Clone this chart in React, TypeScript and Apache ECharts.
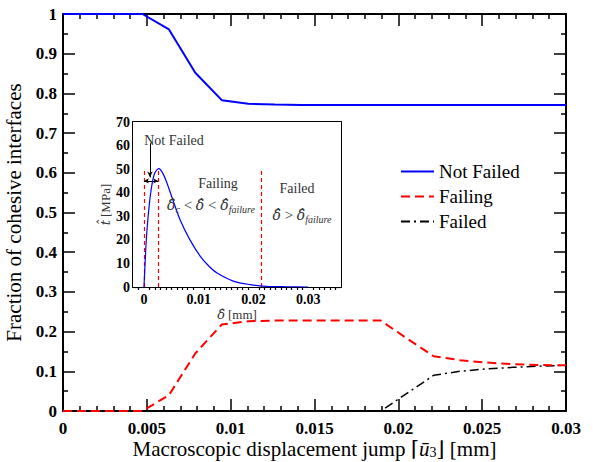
import React, { useEffect, useRef } from "react";
import * as echarts from "echarts";

// Macroscopic displacement jump [mm] at each load step
const displacement = [
  0, 0.00158, 0.00316, 0.00474, 0.00632, 0.00789, 0.00947, 0.01105, 0.01263, 0.01421,
  0.01579, 0.01737, 0.01895, 0.02053, 0.02211, 0.02368, 0.02526, 0.02684, 0.02842, 0.03,
];
// Fraction of cohesive interfaces in each state
const notFailed = [
  1, 1, 1, 1, 0.961, 0.852, 0.783, 0.774, 0.772, 0.771,
  0.771, 0.771, 0.771, 0.771, 0.771, 0.771, 0.771, 0.771, 0.771, 0.771,
];
const failing = [
  0, 0, 0, 0, 0.04, 0.145, 0.218, 0.226, 0.228, 0.228,
  0.228, 0.228, 0.228, 0.182, 0.138, 0.128, 0.122, 0.118, 0.116, 0.115,
];
const failed = [
  0, 0, 0, 0, 0, 0, 0, 0, 0, 0,
  0, 0, 0, 0.045, 0.09, 0.1, 0.106, 0.11, 0.113, 0.115,
];

// Cohesive law: effective opening [mm] vs effective traction [MPa]
const separation = [
  0, 0.00025, 0.0005, 0.001, 0.0015, 0.002, 0.0027, 0.0035, 0.0043, 0.0052,
  0.0066, 0.0084, 0.0103, 0.0118, 0.0133, 0.0163, 0.0194, 0.0224, 0.026, 0.03,
];
const traction = [
  0, 12, 22.5, 35.5, 44, 48.5, 50.2, 48, 43.5, 37.5,
  28.5, 20, 13, 9, 6, 2.5, 1, 0.3, 0.1, 0,
];
// State boundaries of the cohesive law: 0, critical opening, failure opening
const stateBounds = [0, 0.0026, 0.0215];
const boundTop = 50;
const arrowLevel = 45;

// Tick positions of the inset opening axis
const insetMajorTicks = [0, 0.01, 0.02, 0.03];
const insetMinorTicks = [
  -0.001, 0.001, 0.002, 0.003, 0.004, 0.005, 0.006, 0.007, 0.008, 0.009,
  0.011, 0.012, 0.013, 0.014, 0.015, 0.016, 0.017, 0.018, 0.019,
  0.021, 0.022, 0.023, 0.024, 0.025, 0.026, 0.027, 0.028, 0.029,
  0.031, 0.032, 0.033, 0.034, 0.035,
];

const legendNames = ["Not Failed", "Failing", "Failed"];

const serif = "Liberation Serif, DejaVu Serif, serif";
const mathFont = "DejaVu Serif, serif";
const fmt = (v: number) => String(parseFloat(v.toFixed(4)));

const axisLine = { show: true, onZero: false, lineStyle: { color: "#000", width: 2 } };
const tickLine = { color: "#000", width: 1.5 };

// bold serif tick labels
function tickLabel(show: boolean, size: number, margin: number, extra: object = {}) {
  return {
    show,
    margin,
    formatter: (v: number) => `{b|${fmt(v)}}`,
    rich: { b: { fontFamily: serif, fontWeight: "bold", fontSize: size, color: "#000" } },
    ...extra,
  };
}

function mainX(position: "bottom" | "top", labels: boolean) {
  return {
    gridIndex: 0,
    type: "value",
    position,
    min: 0,
    max: 0.03,
    interval: 0.005,
    axisLine,
    axisTick: { show: true, inside: true, length: 12, lineStyle: tickLine },
    minorTick: { show: true, splitNumber: 5, length: 5, lineStyle: tickLine },
    splitLine: { show: false },
    minorSplitLine: { show: false },
    axisLabel: tickLabel(labels, 17, 9),
    ...(labels
      ? {
          name: "{n|Macroscopic displacement jump ⌈}{i|ū}{s|3}{n|⌋ [mm]}",
          nameLocation: "middle",
          nameGap: 27,
          nameMoveOverlap: false,
          nameTextStyle: {
            rich: {
              n: { fontFamily: serif, fontSize: 21, color: "#000", lineHeight: 21 },
              i: { fontFamily: serif, fontStyle: "italic", fontSize: 21, color: "#000", lineHeight: 21 },
              s: { fontFamily: serif, fontSize: 14, color: "#000", lineHeight: 14, verticalAlign: "bottom" },
            },
          },
        }
      : {}),
  };
}

function mainY(position: "left" | "right", labels: boolean) {
  return {
    gridIndex: 0,
    type: "value",
    position,
    min: 0,
    max: 1,
    interval: 0.1,
    axisLine,
    axisTick: { show: true, inside: true, length: 12, lineStyle: tickLine },
    minorTick: { show: true, splitNumber: 2, length: 5, lineStyle: tickLine },
    splitLine: { show: false },
    minorSplitLine: { show: false },
    axisLabel: tickLabel(labels, 17, 6),
    ...(labels
      ? {
          name: "Fraction of cohesive interfaces",
          nameLocation: "middle",
          nameGap: 31,
          nameTextStyle: { fontFamily: serif, fontSize: 21, color: "#000" },
        }
      : {}),
  };
}

function insetX(position: "bottom" | "top", minor: boolean, labels: boolean) {
  return {
    gridIndex: 1,
    type: "value",
    position,
    min: -0.002,
    max: 0.036,
    axisLine: minor ? { show: false } : axisLine,
    axisTick: {
      show: true,
      inside: true,
      length: minor ? 3 : 7,
      customValues: minor ? insetMinorTicks : insetMajorTicks,
      lineStyle: { color: "#000", width: 1.2 },
    },
    splitLine: { show: false },
    axisLabel: tickLabel(labels, 14, 5, { customValues: insetMajorTicks }),
    ...(labels
      ? {
          name: "{i|δ̂} {n|[mm]}",
          nameLocation: "middle",
          nameGap: 21,
          nameTextStyle: {
            rich: {
              i: { fontFamily: mathFont, fontStyle: "italic", fontSize: 13, color: "#333" },
              n: { fontFamily: serif, fontSize: 13, color: "#333" },
            },
          },
        }
      : {}),
  };
}

function insetY(position: "left" | "right", labels: boolean) {
  return {
    gridIndex: 1,
    type: "value",
    position,
    min: 0,
    max: 70,
    interval: 10,
    axisLine,
    axisTick: { show: true, inside: true, length: 7, lineStyle: { color: "#000", width: 1.2 } },
    minorTick: { show: true, splitNumber: 2, length: 3, lineStyle: { color: "#000", width: 1.2 } },
    splitLine: { show: false },
    minorSplitLine: { show: false },
    axisLabel: tickLabel(labels, 14, 3),
    ...(labels
      ? {
          name: "{i|t̂} {n|[MPa]}",
          nameLocation: "middle",
          nameGap: 16,
          nameTextStyle: {
            rich: {
              i: { fontFamily: mathFont, fontStyle: "italic", fontSize: 13, color: "#333" },
              n: { fontFamily: serif, fontSize: 13, color: "#333" },
            },
          },
        }
      : {}),
  };
}

const mathRich = {
  m: { fontFamily: mathFont, fontStyle: "italic", fontSize: 14, lineHeight: 18, fill: "#333" },
  r: { fontFamily: serif, fontSize: 15, lineHeight: 18, fill: "#333" },
  s: { fontFamily: serif, fontStyle: "italic", fontSize: 10, lineHeight: 10, fill: "#333", verticalAlign: "bottom" },
};

function label(x: number, y: number, text: string, size = 14) {
  return {
    type: "text",
    x,
    y,
    z: 10,
    style: {
      text,
      fontFamily: serif,
      fontSize: size,
      fill: "#333",
      align: "center",
      verticalAlign: "middle",
      rich: mathRich,
    },
  };
}

const pairs = (xs: number[], ys: number[]) => xs.map((x, i) => [x, ys[i]]);

export default function App() {
  const ref = useRef<HTMLDivElement>(null);

  useEffect(() => {
    if (!ref.current) return;
    const chart = echarts.init(ref.current, null, { renderer: "svg" });
    const arrowStyle = { color: "#000", type: "solid", width: 1 };

    chart.setOption({
      animation: false,
      backgroundColor: "#fff",
      textStyle: { fontFamily: serif },
      grid: [
        { left: 63, right: 28, top: 14, bottom: 51, containLabel: false, outerBoundsMode: "none" },
        {
          left: 133,
          top: 122,
          width: 208,
          height: 165,
          show: true,
          backgroundColor: "#fff",
          borderWidth: 0,
          z: 5,
          containLabel: false,
          outerBoundsMode: "none",
        },
      ],
      xAxis: [
        mainX("bottom", true),
        mainX("top", false),
        insetX("bottom", false, true),
        insetX("bottom", true, false),
        insetX("top", false, false),
        insetX("top", true, false),
      ],
      yAxis: [mainY("left", true), mainY("right", false), insetY("left", true), insetY("right", false)],
      legend: {
        data: legendNames,
        orient: "vertical",
        left: 395,
        top: 157,
        itemWidth: 33,
        itemHeight: 14,
        itemGap: 6,
        itemStyle: { opacity: 0 },
        formatter: (name: string) => `{t|${name}}`,
        textStyle: {
          rich: { t: { fontFamily: serif, fontSize: 19, color: "#000", lineHeight: 20 } },
        },
      },
      series: [
        {
          name: "Failed",
          type: "line",
          xAxisIndex: 0,
          yAxisIndex: 0,
          symbol: "none",
          data: pairs(displacement, failed),
          lineStyle: { color: "#000", width: 1.5, type: [9, 4, 2, 4] },
          itemStyle: { color: "#000" },
          z: 2,
        },
        {
          name: "Failing",
          type: "line",
          xAxisIndex: 0,
          yAxisIndex: 0,
          symbol: "none",
          data: pairs(displacement, failing),
          lineStyle: { color: "#ff0000", width: 2, type: [9, 5] },
          itemStyle: { color: "#ff0000" },
          z: 3,
        },
        {
          name: "Not Failed",
          type: "line",
          xAxisIndex: 0,
          yAxisIndex: 0,
          symbol: "none",
          data: pairs(displacement, notFailed),
          lineStyle: { color: "#0000ff", width: 2 },
          itemStyle: { color: "#0000ff" },
          z: 4,
        },
        {
          name: "cohesive law",
          type: "line",
          xAxisIndex: 2,
          yAxisIndex: 2,
          symbol: "none",
          smooth: 0.3,
          data: pairs(separation, traction),
          lineStyle: { color: "#0000ff", width: 1.2 },
          z: 6,
          markLine: {
            silent: true,
            symbol: "none",
            label: { show: false },
            lineStyle: { color: "#ff0000", type: [4, 3], width: 1.2 },
            data: [
              ...stateBounds.map((d) => [{ coord: [d, 0] }, { coord: [d, boundTop] }]),
              [
                { coord: [stateBounds[0], arrowLevel], symbol: "arrow", symbolSize: [4, 5], lineStyle: arrowStyle },
                { coord: [stateBounds[1], arrowLevel], symbol: "arrow", symbolSize: [4, 5] },
              ],
              [
                { coord: [0.0011, 61], symbol: "none", lineStyle: arrowStyle },
                { coord: [0.0011, 46.5], symbol: "arrow", symbolSize: [4, 6] },
              ],
            ],
          },
        },
      ],
      graphic: [
        label(174, 140, "Not Failed"),
        label(218, 183, "Failing"),
        label(211, 205, "{m|δ̂}{s|c}{r| < }{m|δ̂}{r| < }{m|δ̂}{s|failure}"),
        label(297, 188, "Failed"),
        label(302, 215, "{m|δ̂}{r| > }{m|δ̂}{s|failure}"),
      ],
    });

    return () => chart.dispose();
  }, []);

  return (
    <div
      ref={ref}
      style={{ position: "fixed", left: 0, top: 0, width: 594, height: 462, background: "#fff" }}
    />
  );
}
